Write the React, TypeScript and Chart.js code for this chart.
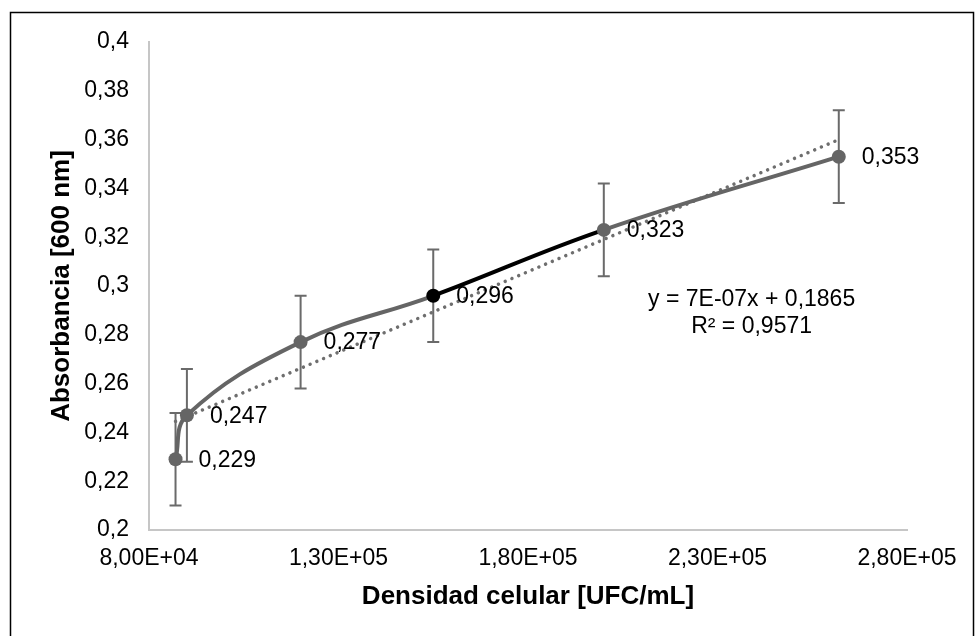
import React, { useEffect, useRef } from "react";
import { Chart, registerables } from "chart.js";

Chart.register(...registerables);

// ---- data ----
const densidad = [87000, 90000, 120000, 155000, 200000, 262000];
const absorbancia = [0.229, 0.247, 0.277, 0.296, 0.323, 0.353];
const errorAbs = [0.019, 0.019, 0.019, 0.019, 0.019, 0.019];
const trendX = [87000, 262000];
const trendY = [0.2445, 0.3600];
const xTickLabels = ["8,00E+04", "1,30E+05", "1,80E+05", "2,30E+05", "2,80E+05"];
const yTickLabels = ["0,2", "0,22", "0,24", "0,26", "0,28", "0,3", "0,32", "0,34", "0,36", "0,38", "0,4"];
const equationLines = ["y = 7E-07x + 0,1865", "R² = 0,9571"];
const xTitle = "Densidad celular [UFC/mL]";
const yTitle = "Absorbancia [600 nm]";
const highlightIndex = 3;

const FONT = "'Liberation Sans', Arial, sans-serif";
const GRAY = "#656565";

const framePlugin = {
  id: "frame",
  beforeDraw(chart: any) {
    const ctx = chart.ctx;
    ctx.save();
    ctx.fillStyle = "#fff";
    ctx.fillRect(0, 0, chart.width, chart.height);
    ctx.strokeStyle = "#000";
    ctx.lineWidth = 1.5;
    ctx.strokeRect(10.5, 12.5, 963, 700);
    ctx.restore();
  },
};

const errorBarPlugin = {
  id: "errorBars",
  beforeDatasetsDraw(chart: any) {
    const ctx = chart.ctx;
    const xs = chart.scales.x;
    const ys = chart.scales.y;
    ctx.save();
    ctx.strokeStyle = "#6a6a6a";
    ctx.lineWidth = 2;
    densidad.forEach((xv, i) => {
      const px = xs.getPixelForValue(xv);
      const top = ys.getPixelForValue(absorbancia[i] + errorAbs[i]);
      const bot = ys.getPixelForValue(absorbancia[i] - errorAbs[i]);
      ctx.beginPath();
      ctx.moveTo(px, top);
      ctx.lineTo(px, bot);
      ctx.moveTo(px - 6, top);
      ctx.lineTo(px + 6, top);
      ctx.moveTo(px - 6, bot);
      ctx.lineTo(px + 6, bot);
      ctx.stroke();
    });
    ctx.restore();
  },
};

const labelsPlugin = {
  id: "labels",
  afterDatasetsDraw(chart: any) {
    const ctx = chart.ctx;
    const meta = chart.getDatasetMeta(0);
    ctx.save();
    ctx.fillStyle = "#000";
    ctx.font = `23px ${FONT}`;
    ctx.textAlign = "left";
    ctx.textBaseline = "middle";
    meta.data.forEach((pt: any, i: number) => {
      ctx.fillText(absorbancia[i].toFixed(3).replace(".", ","), pt.x + 23, pt.y + 1);
    });
    // trendline equation
    const xs = chart.scales.x;
    const ys = chart.scales.y;
    const ex = xs.getPixelForValue(239000);
    const ey = ys.getPixelForValue(0.2943);
    ctx.textAlign = "center";
    equationLines.forEach((t, i) => {
      ctx.fillText(t, ex, ey + i * 27);
    });
    ctx.restore();
  },
};

export default function App() {
  const ref = useRef<HTMLCanvasElement>(null);
  useEffect(() => {
    if (!ref.current) return;
    const chart = new Chart(ref.current, {
      type: "line",
      data: {
        datasets: [
          {
            label: "Absorbancia",
            data: densidad.map((x, i) => ({ x, y: absorbancia[i] })),
            borderColor: GRAY,
            borderWidth: 4,
            tension: 0.4,
            pointRadius: 7,
            pointHoverRadius: 7,
            pointBorderWidth: 0,
            pointBackgroundColor: densidad.map((_, i) => (i === highlightIndex ? "#000" : GRAY)),
            pointBorderColor: densidad.map((_, i) => (i === highlightIndex ? "#000" : GRAY)),
            segment: {
              borderColor: (c: any) => (c.p0DataIndex === highlightIndex ? "#000" : GRAY),
            },
            order: 0,
          },
          {
            label: "Lineal",
            data: trendX.map((x, i) => ({ x, y: trendY[i] })),
            borderColor: "#6e6e6e",
            borderWidth: 3.5,
            borderDash: [0.01, 7.3],
            borderCapStyle: "round",
            pointRadius: 0,
            tension: 0,
            order: 1,
          },
        ],
      },
      options: {
        animation: false,
        responsive: false,
        events: [],
        layout: { padding: { left: 0, top: 42, right: 68, bottom: 0 } },
        plugins: { legend: { display: false }, tooltip: { enabled: false } },
        scales: {
          x: {
            type: "linear",
            min: 80000,
            max: 280000,
            afterFit: (s: any) => {
              s.height = 106;
            },
            ticks: {
              stepSize: 50000,
              padding: 15,
              color: "#000",
              font: { family: FONT, size: 23 },
              maxRotation: 0,
              callback: (_v: any, i: number) => xTickLabels[i],
            },
            grid: { display: false, drawTicks: false },
            border: { display: true, color: "#c6c6c6", width: 2 },
            title: {
              display: true,
              text: xTitle,
              color: "#000",
              font: { family: FONT, size: 26, weight: "bold" },
              padding: { top: 0, bottom: 24 },
            },
          },
          y: {
            type: "linear",
            min: 0.2,
            max: 0.4,
            afterFit: (s: any) => {
              s.width = 149;
            },
            ticks: {
              stepSize: 0.02,
              padding: 20,
              color: "#000",
              font: { family: FONT, size: 23 },
              callback: (_v: any, i: number) => yTickLabels[i],
            },
            grid: { display: false, drawTicks: false },
            border: { display: true, color: "#c6c6c6", width: 2 },
            title: {
              display: true,
              text: yTitle,
              color: "#000",
              font: { family: FONT, size: 26, weight: "bold" },
              padding: { top: 46, bottom: 0 },
            },
          },
        },
      },
      plugins: [framePlugin, errorBarPlugin, labelsPlugin],
    } as any);
    return () => chart.destroy();
  }, []);
  return (
    <div style={{ position: "fixed", left: 0, top: 0, width: 975, height: 636 }}>
      <canvas ref={ref} width={975} height={636} />
    </div>
  );
}
